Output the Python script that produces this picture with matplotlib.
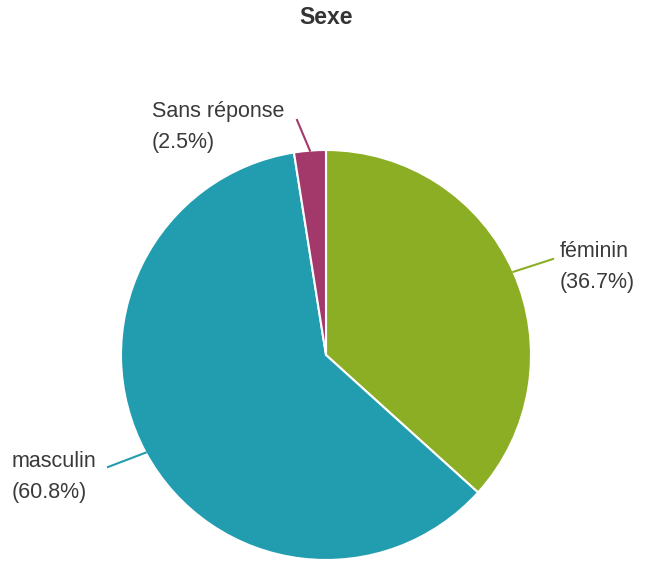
import numpy as np
import matplotlib.pyplot as plt

labels = ["féminin", "masculin", "Sans réponse"]
values = [36.7, 60.8, 2.5]
colors = ["#8cae24", "#229daf", "#a3386a"]
title = "Sexe"

# layout in pixel units (y up)
W, H = 645, 561
cx, cy, r = 326, H - 355, 205

fig = plt.figure(figsize=(6.45, 5.61), dpi=100)
ax = fig.add_axes([0, 0, 1, 1])

wedges, _ = ax.pie(values, colors=colors, startangle=90, counterclock=False,
                   center=(cx, cy), radius=r, frame=True,
                   wedgeprops=dict(edgecolor="white", linewidth=1.5))
ax.set_xlim(0, W)
ax.set_ylim(0, H)
ax.axis("off")

# connector end points and text anchors
ends = [(553, H - 259), (108, H - 467), (297, H - 120)]
texts = [(560, H - 267), (12, H - 477), (152, H - 127)]

for w, val, lab, col, e, t in zip(wedges, values, labels, colors, ends, texts):
    ang = np.deg2rad((w.theta1 + w.theta2) / 2)
    sx, sy = cx + r * np.cos(ang), cy + r * np.sin(ang)
    ax.plot([sx, e[0]], [sy, e[1]], color=col, lw=1.5)
    ax.text(t[0], t[1], f"{lab}\n({val}%)", ha="left", va="center",
            fontsize=15.5, color="#3a3a3a", family="Liberation Sans",
            linespacing=1.62)

fig.text(cx / W, 1 - 18 / H, title, ha="center", va="center",
         fontsize=16.5, fontweight="bold", color="#333333",
         family="Liberation Sans")

fig.savefig("out.png", dpi=100)
